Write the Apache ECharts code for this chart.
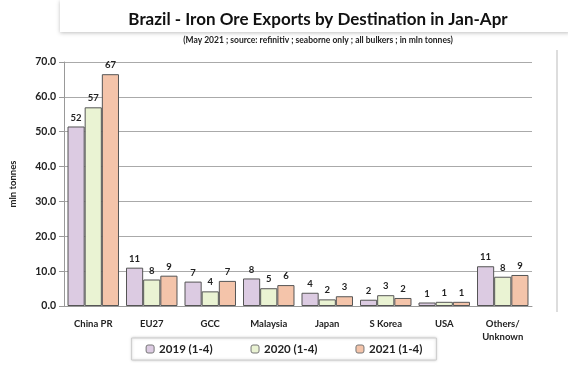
<!DOCTYPE html>
<html><head><meta charset="utf-8">
<script src="https://cdn.jsdelivr.net/npm/echarts@6/dist/echarts.min.js"></script>
<style>html,body{margin:0;padding:0;background:#fff}#c{width:568px;height:372px}</style>
</head><body><div id="c"></div>
<script>
const categories = ['China PR','EU27','GCC','Malaysia','Japan','S Korea','USA','Others/\nUnknown'];
const s2019 = [51.5, 11.0, 7.0, 7.9, 3.8, 1.8, 1.0, 11.4];
const s2020 = [57.0, 7.6, 4.2, 5.1, 1.9, 3.1, 1.2, 8.4];
const s2021 = [66.5, 8.7, 7.2, 6.0, 2.8, 2.3, 1.2, 8.9];
const seriesNames = ['2019 (1-4)','2020 (1-4)','2021 (1-4)'];
const colors = ['#dccbe2','#eaf3d3','#f4c4aa'];
const font = 'Lato, "Open Sans", sans-serif';
const chart = echarts.init(document.getElementById('c'));
function mk(name, data, color){
  return {name, type:'bar', data, barGap:'0%', barCategoryGap:'12%',
    itemStyle:{color, borderColor:'#555', borderWidth:1},
    label:{show:true, position:'top', distance:4, fontFamily:font, fontWeight:'bold', fontSize:9.5, color:'#222',
      formatter:p=>Math.round(p.value)}};
}
chart.setOption({
  animation:false,
  graphic:[
    {type:'rect', shape:{x:60,y:0,width:510,height:32}, style:{fill:'#fff', shadowBlur:4, shadowColor:'rgba(0,0,0,0.25)', shadowOffsetY:1}, z:-1},
    {type:'line', shape:{x1:557,y1:50,x2:557,y2:312}, style:{stroke:'#bbb', lineWidth:1}}
  ],
  title:{text:'Brazil - Iron Ore Exports by Destination in Jan-Apr', left:313, top:6, textAlign:'center',
    textStyle:{fontFamily:font, fontWeight:'bold', fontSize:17, color:'#111'},
    subtext:'(May 2021 ; source: refinitiv ; seaborne only ; all bulkers ; in mln tonnes)', itemGap:8,
    subtextStyle:{fontFamily:font, fontWeight:'bold', fontSize:8.5, color:'#222'}},
  legend:{bottom:12, left:'center', itemWidth:8, itemHeight:8, itemGap:38, padding:[5,14],
    borderColor:'#ccc', borderWidth:1, shadowBlur:3, shadowColor:'rgba(0,0,0,0.2)', backgroundColor:'#fff',
    textStyle:{fontFamily:font, fontWeight:'bold', fontSize:11.5, color:'#222'},
    itemStyle:{borderColor:'#777', borderWidth:1}},
  grid:{left:64, right:36, top:62, bottom:66},
  xAxis:{type:'category', data:categories,
    axisLine:{lineStyle:{color:'#999'}}, axisTick:{show:false},
    axisLabel:{fontFamily:font, fontWeight:'bold', fontSize:9.5, color:'#222', margin:11, lineHeight:13}},
  yAxis:{type:'value', min:0, max:70, interval:10,
    name:'mln tonnes', nameLocation:'middle', nameGap:46, nameRotate:90,
    nameTextStyle:{fontFamily:font, fontWeight:'bold', fontSize:9.5, color:'#222'},
    axisLine:{show:true, lineStyle:{color:'#999'}}, axisTick:{show:true, length:5, lineStyle:{color:'#999'}},
    axisLabel:{fontFamily:font, fontWeight:'bold', fontSize:10.5, color:'#222', formatter:v=>v.toFixed(1)},
    splitLine:{lineStyle:{color:'#aaa'}}},
  series:[mk(seriesNames[0], s2019, colors[0]), mk(seriesNames[1], s2020, colors[1]), mk(seriesNames[2], s2021, colors[2])]
});
</script></body></html>
